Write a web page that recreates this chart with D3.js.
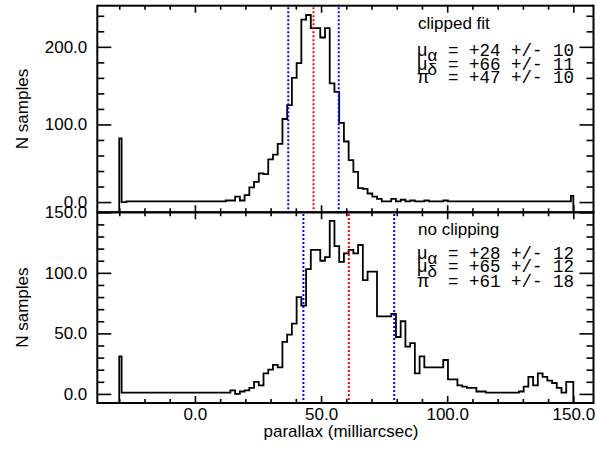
<!DOCTYPE html>
<html><head><meta charset="utf-8">
<script src="https://cdn.jsdelivr.net/npm/d3@7"></script>
<style>body{margin:0;background:#fff}svg{display:block}</style>
</head><body><svg id="c" width="596" height="450"></svg>
<script>
// ---- data ----
const binStart = -30, binWidth = 1.875;
const clippedCounts = [82,
 0,1,1,1,1,1,1,1,1,1,1,1,1,1,1,1,1,1,1,1,1,1,2,2,
 7,2,9,19,26,37,36,55,61,75,107,125,160,179,235,241,224,224,212,224,153,142,102,78,54,39,18,17,11,7,4,1,1,4,1,3,
 1,2,1,1,2,1,1,1,2,1,1,1,1,1,1,1,1,1,1,1,1,1,1,1,1,1,1,1,1,1,1,1,1,1,1,
 8];
const fullCounts = [31,
 1,1,1,1,1,1,1,1,1,1,1,1,1,1,1,1,1,1,1,1,1,1,1,
 3,0,2,3,5,10,7,17,20,24,
 22,43,49,58,80,73,103,119,119,110,
 113,143,122,109,116,119,116,123,94,101,
 101,64,64,64,66,47,60,39,42,17,
 31,22,22,22,22,28,12,12,7,6,
 5,5,2,2,1,1,1,1,1,1,
 1,2,6,14,7,17,14,11,9,5,
 1,10,10];
const panelTitles = ["clipped fit", "no clipping"];
const muAlpha = [24, 28], muAlphaErr = [10, 12];
const muDelta = [66, 65], muDeltaErr = [11, 12];
const parallax = [47, 61], parallaxErr = [10, 18];
const xMajorTicks = [0, 50, 100, 150];
const topMajorTicks = [0, 100, 200];
const bottomMajorTicks = [0, 50, 100, 150];
const xLabel = "parallax (milliarcsec)";
const yLabel = "N samples";

// ---- layout ----
const svg = d3.select("#c");
const L = 97.3, R = 593.5;
const x = d3.scaleLinear().domain([-38.7, 158]).range([L, R]);
const panels = [
  {counts: clippedCounts, y: d3.scaleLinear().domain([-13.2, 253]).range([212.3, 5.7]),
   major: topMajorTicks, minorStep: 20, titleY: 28.5, rowY: [56, 69.5, 83]},
  {counts: fullCounts, y: d3.scaleLinear().domain([-7.5, 150]).range([403, 212.3]),
   major: bottomMajorTicks, minorStep: 10, titleY: 235, rowY: [258.5, 272, 286.5]}
];
const sans = "'Liberation Sans', Arial, Helvetica, sans-serif";
const mono = "'Liberation Mono', 'Courier New', monospace";
const fmt = d => d3.format(".1f")(d);
const xMinor = d3.range(-30, 151, 10).filter(v => !xMajorTicks.includes(v));

function styleAxis(g) {
  g.select(".domain").remove();
  g.selectAll(".tick line").attr("stroke", "#000").attr("stroke-width", 1.6);
  g.selectAll("text").attr("fill", "#000").style("font-family", sans).style("font-size", "17px");
}

panels.forEach((p, i) => {
  const y = p.y;
  const [y0, y1] = y.range();
  const yDom = y.domain();
  const yMinor = d3.range(0, yDom[1], p.minorStep).filter(v => !p.major.includes(v));
  const lastX = binStart + (p.counts.length - 1) * binWidth;

  // histogram
  const pts = [[binStart, yDom[0]]]
    .concat(p.counts.map((c, k) => [binStart + k * binWidth, c]))
    .concat([[lastX, yDom[0]]]);
  const line = d3.line().x(d => x(d[0])).y(d => y(d[1])).curve(d3.curveStep);
  svg.append("path").attr("d", line(pts)).attr("fill", "none")
    .attr("stroke", "#000").attr("stroke-width", 1.8).attr("stroke-linejoin", "miter");

  // fit lines
  const vals = [parallax[i] - parallaxErr[i], parallax[i], parallax[i] + parallaxErr[i]];
  const cols = ["#0000ff", "#ff0000", "#0000ff"];
  svg.selectAll(null).data(vals).enter().append("line")
    .attr("x1", d => x(d)).attr("x2", d => x(d))
    .attr("y1", y(yDom[0]) + 1).attr("y2", y(yDom[1]))
    .attr("stroke", (d, k) => cols[k]).attr("stroke-width", 2)
    .attr("stroke-dasharray", "2,2");

  // axes
  svg.append("g").attr("transform", `translate(${L},0)`)
    .call(d3.axisLeft(y).tickValues(p.major).tickFormat(fmt).tickSizeInner(-14).tickSizeOuter(0).tickPadding(10))
    .call(styleAxis);
  svg.append("g").attr("transform", `translate(${L},0)`)
    .call(d3.axisLeft(y).tickValues(yMinor).tickFormat("").tickSizeInner(-7).tickSizeOuter(0))
    .call(styleAxis);
  svg.append("g").attr("transform", `translate(${R},0)`)
    .call(d3.axisRight(y).tickValues(p.major).tickFormat("").tickSizeInner(-14).tickSizeOuter(0))
    .call(styleAxis);
  svg.append("g").attr("transform", `translate(${R},0)`)
    .call(d3.axisRight(y).tickValues(yMinor).tickFormat("").tickSizeInner(-7).tickSizeOuter(0))
    .call(styleAxis);
  svg.append("g").attr("transform", `translate(0,${y0})`)
    .call(d3.axisBottom(x).tickValues(xMajorTicks).tickFormat(i === 1 ? fmt : "").tickSizeInner(-7).tickSizeOuter(0).tickPadding(5))
    .call(styleAxis);
  svg.append("g").attr("transform", `translate(0,${y0})`)
    .call(d3.axisBottom(x).tickValues(xMinor).tickFormat("").tickSizeInner(-4).tickSizeOuter(0))
    .call(styleAxis);
  svg.append("g").attr("transform", `translate(0,${y1})`)
    .call(d3.axisTop(x).tickValues(xMajorTicks).tickFormat("").tickSizeInner(-7).tickSizeOuter(0))
    .call(styleAxis);
  svg.append("g").attr("transform", `translate(0,${y1})`)
    .call(d3.axisTop(x).tickValues(xMinor).tickFormat("").tickSizeInner(-4).tickSizeOuter(0))
    .call(styleAxis);

  // frame
  svg.append("rect").attr("x", L).attr("y", y1).attr("width", R - L).attr("height", y0 - y1)
    .attr("fill", "none").attr("stroke", "#000").attr("stroke-width", 2);

  // y label
  svg.append("text").attr("transform", `translate(28,${(y0 + y1) / 2}) rotate(-90)`)
    .attr("text-anchor", "middle").style("font-family", sans).style("font-size", "17px").text(yLabel);

  // annotation
  svg.append("text").attr("x", 418).attr("y", p.titleY).style("font-family", sans)
    .style("font-size", "17px").text(panelTitles[i]);
  const rows = [
    {sym: "μ", sub: "α", v: muAlpha[i], e: muAlphaErr[i]},
    {sym: "μ", sub: "δ", v: muDelta[i], e: muDeltaErr[i]},
    {sym: "π", sub: "", v: parallax[i], e: parallaxErr[i]}
  ];
  rows.forEach((r, k) => {
    const t = svg.append("text").attr("x", 417).attr("y", p.rowY[k]).style("font-family", sans).style("font-size", "18px");
    t.append("tspan").text(r.sym);
    if (r.sub) t.append("tspan").attr("dy", 5).style("font-size", "17px").text(r.sub);
    svg.append("text").attr("x", 448).attr("y", p.rowY[k]).style("font-family", mono)
      .style("font-size", "17.5px").attr("xml:space", "preserve")
      .text(`= ${d3.format("+d")(r.v)} +/- ${r.e}`);
  });
});

svg.append("text").attr("x", 341).attr("y", 437).attr("text-anchor", "middle")
  .style("font-family", sans).style("font-size", "17px").text(xLabel);
</script></body></html>
